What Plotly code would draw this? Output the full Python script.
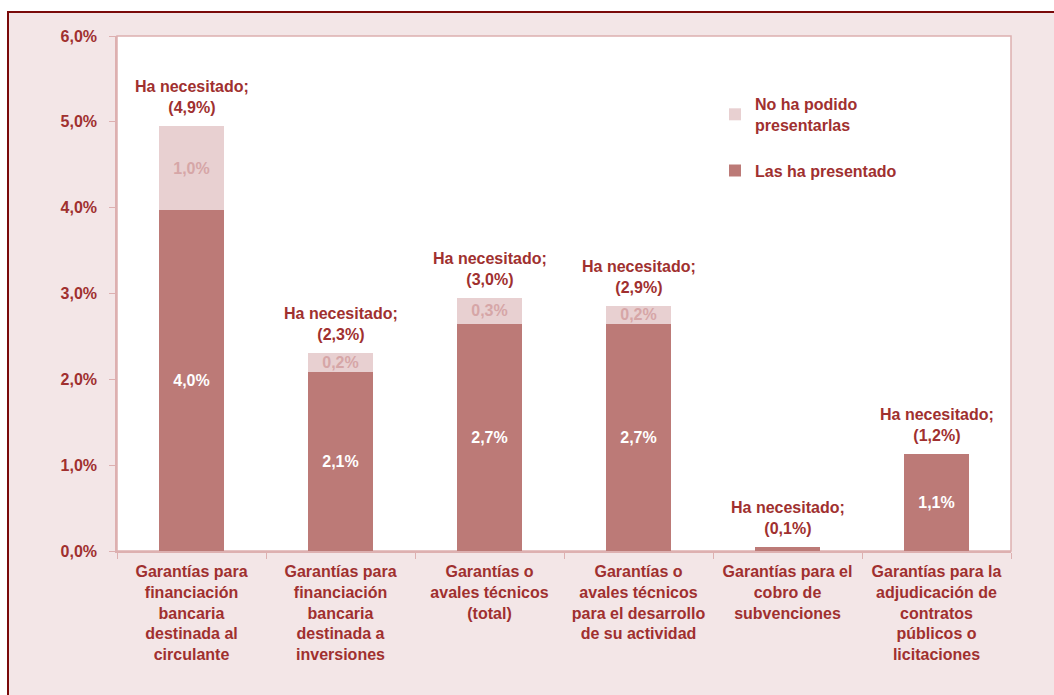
import plotly.graph_objects as go

categories = [
    "Garantías para<br>financiación<br>bancaria<br>destinada al<br>circulante",
    "Garantías para<br>financiación<br>bancaria<br>destinada a<br>inversiones",
    "Garantías o<br>avales técnicos<br>(total)",
    "Garantías o<br>avales técnicos<br>para el desarrollo<br>de su actividad",
    "Garantías para el<br>cobro de<br>subvenciones",
    "Garantías para la<br>adjudicación de<br>contratos<br>públicos o<br>licitaciones",
]
presentado = [3.97, 2.08, 2.65, 2.65, 0.05, 1.13]
no_presentado = [0.98, 0.23, 0.30, 0.20, 0.0, 0.0]
presentado_labels = ["4,0%", "2,1%", "2,7%", "2,7%", "", "1,1%"]
no_presentado_labels = ["1,0%", "0,2%", "0,3%", "0,2%", "", ""]
necesitado = ["4,9", "2,3", "3,0", "2,9", "0,1", "1,2"]

DARK = "#BC7A77"
LIGHT = "#E8D0D1"
TXT = "#A0302F"
PINK_LINE = "#DDB0B0"
BG = "#F3E6E7"
FONT = "Liberation Sans"
FS = 16

W, H = 1054, 695
L, R, T, B = 117, 43, 36, 144
pw, ph = W - L - R, H - T - B

def px_x(px):
    return (px - L) / pw

def px_y(py):
    return (H - B - py) / ph

def f(size, color=TXT):
    return dict(family=FONT, size=size, color=color, weight="bold")

fig = go.Figure()
fig.add_trace(go.Bar(
    x=categories, y=presentado, name="Las ha presentado",
    marker=dict(color=DARK, line=dict(width=0)),
    text=presentado_labels, textposition="inside", insidetextanchor="middle",
    constraintext="none", textfont=f(FS, "white"),
    legendgroup="a", legendrank=2,
))
fig.add_trace(go.Bar(
    x=categories, y=no_presentado, name="No ha podido<br>presentarlas",
    marker=dict(color=LIGHT, line=dict(width=0)),
    text=no_presentado_labels, textposition="inside", insidetextanchor="middle",
    constraintext="none", textfont=f(FS, "#D6A6A7"),
    legendgroup="b", legendrank=1,
))

for c, p, n, lab in zip(categories, presentado, no_presentado, necesitado):
    fig.add_annotation(
        x=c, y=p + n, yanchor="bottom", yshift=8, showarrow=False,
        text=f"Ha necesitado;<br>({lab}%)", font=f(FS),
    )

fig.update_layout(
    width=W, height=H,
    margin=dict(l=L, r=R, t=T, b=B, autoexpand=False),
    barmode="stack", bargap=0.56,
    separators=",.",
    paper_bgcolor="white", plot_bgcolor="rgba(0,0,0,0)",
    font=f(FS),
    showlegend=True,
    legend=dict(
        x=px_x(715), y=px_y(87), xanchor="left", yanchor="top",
        traceorder="grouped", tracegroupgap=22,
        bgcolor="rgba(0,0,0,0)", font=f(FS), itemwidth=30,
    ),
    shapes=[
        dict(type="rect", xref="paper", yref="paper", layer="below",
             x0=px_x(8), x1=px_x(1070), y0=px_y(710), y1=px_y(12),
             fillcolor=BG, line=dict(color="#7A0A0A", width=2)),
        dict(type="rect", xref="paper", yref="paper", layer="below",
             x0=0, x1=1, y0=0, y1=1,
             fillcolor="white", line=dict(color=PINK_LINE, width=1.5)),
    ],
)
fig.update_xaxes(
    showline=True, linecolor=PINK_LINE, linewidth=1.5,
    ticks="outside", tickson="boundaries", ticklen=6, tickcolor=PINK_LINE,
    tickfont=f(FS), tickangle=0, ticklabelstandoff=5,
    showgrid=False,
)
fig.update_yaxes(
    range=[0, 6], dtick=1, tickformat=".1f", ticksuffix="%",
    showline=True, linecolor=PINK_LINE, linewidth=1.5,
    ticks="outside", ticklen=6, tickcolor=PINK_LINE,
    tickfont=f(FS), ticklabelstandoff=9,
    showgrid=False, zeroline=False,
)

fig.write_html("out.html", config={"displayModeBar": False},
               post_script="document.body.style.margin='0px';")
